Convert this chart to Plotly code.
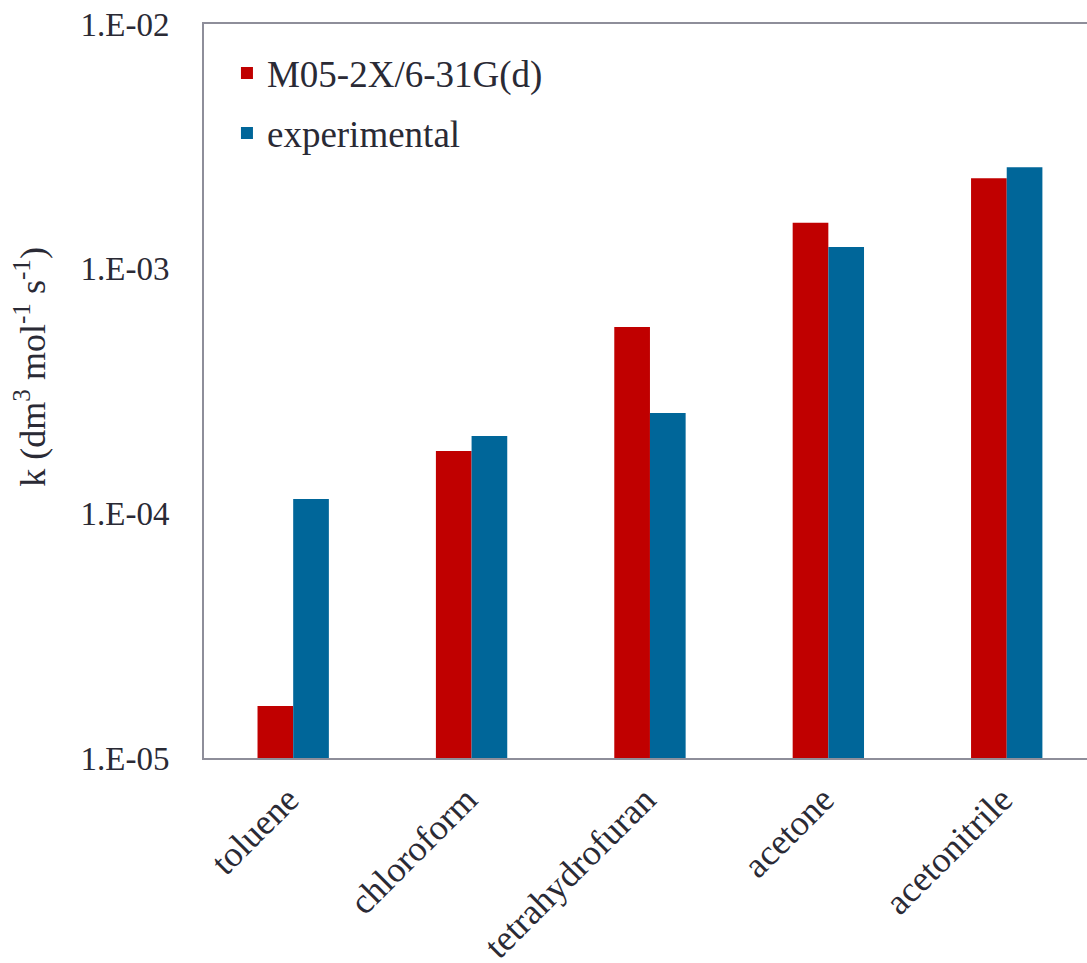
import plotly.graph_objects as go

# Rate constants per solvent
solvents = ["toluene", "chloroform", "tetrahydrofuran", "acetone", "acetonitrile"]
k_m052x = [1.63e-5, 1.80e-4, 5.77e-4, 1.54e-3, 2.34e-3]
k_exp = [1.145e-4, 2.07e-4, 2.57e-4, 1.226e-3, 2.60e-3]

y_tick_vals = [1e-5, 1e-4, 1e-3, 1e-2]
y_tick_text = ["1.E-05", "1.E-04", "1.E-03", "1.E-02"]

RED = "#C00000"
BLUE = "#006699"
TEXT = "#2a2a35"
AXIS = "#8e8e9a"
SERIF = "Liberation Serif"

fig = go.Figure()
fig.add_trace(go.Bar(x=solvents, y=k_m052x, name="M05-2X/6-31G(d)",
                     marker=dict(color=RED, line=dict(width=0)),
                     legendgroup="a"))
fig.add_trace(go.Bar(x=solvents, y=k_exp, name="experimental",
                     marker=dict(color=BLUE, line=dict(width=0)),
                     legendgroup="b"))

fig.update_layout(
    width=1087, height=963,
    margin=dict(l=204, r=0, t=24, b=205),
    paper_bgcolor="white", plot_bgcolor="white",
    barmode="group", bargap=0.6, bargroupgap=0,
    font=dict(family=SERIF, color=TEXT, size=36),
    legend=dict(x=0.026, y=0.975, xanchor="left", yanchor="top",
                font=dict(size=37, family=SERIF, color=TEXT),
                traceorder="grouped", tracegroupgap=9,
                bgcolor="rgba(0,0,0,0)", itemwidth=30),
    showlegend=True,
)

fig.update_xaxes(
    range=[-0.5, 4.45], showline=True, linecolor=AXIS, linewidth=2,
    mirror=True, ticks="", showgrid=False, tickangle=-45,
    tickfont=dict(size=36, family=SERIF, color=TEXT),
    ticklabelstandoff=4, ticklabelshift=-5, automargin=False,
)
fig.update_yaxes(
    type="log", range=[-5, -2], showline=True, linecolor=AXIS, linewidth=2,
    mirror=False, ticks="", showgrid=False, zeroline=False,
    tickvals=y_tick_vals, ticktext=y_tick_text,
    tickfont=dict(size=33, family=SERIF, color=TEXT),
    ticklabelstandoff=26, automargin=False,
)

fig.add_annotation(
    text="k (dm<sup>3</sup> mol<sup>-1</sup> s<sup>-1</sup>)",
    xref="paper", yref="paper", x=-0.196, y=0.533,
    xanchor="center", yanchor="middle", textangle=-90, showarrow=False,
    font=dict(size=36, family=SERIF, color=TEXT),
)

fig.write_html("out.html")
